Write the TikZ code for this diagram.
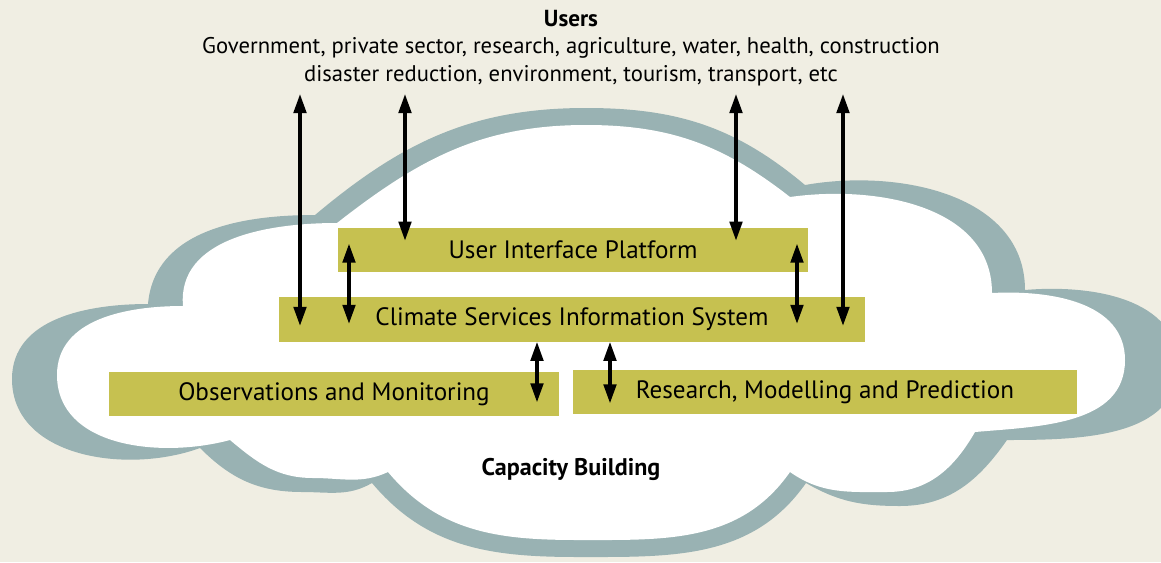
\documentclass[tikz,border=0pt]{standalone}
\usepackage{fontspec}
\setmainfont{PT Sans}
\usetikzlibrary{calc,arrows.meta}
\definecolor{bgcream}{RGB}{240,238,227}
\definecolor{cloudgrey}{RGB}{153,178,179}
\definecolor{boxolive}{RGB}{198,193,80}
\tikzset{
	box/.style={fill=boxolive, inner sep=0pt, minimum height=0.88cm, font=\fontsize{14.3}{17}\selectfont},
	link/.style={line width=1.9pt, {Triangle[length=3.8mm,width=2.5mm]}-{Triangle[length=3.8mm,width=2.5mm]}}
}

\begin{document}
\begin{tikzpicture}[x=0.02cm, y=0.02cm]
	\useasboundingbox (0,0) rectangle (1161,-562);
	\clip (0,0) rectangle (1161,-562);
	\fill[bgcream] (0,0) rectangle (1161,-562);
	
	\fill[cloudgrey] (148,-304) to[out=85,in=180] (315,-215)
		to[out=40,in=180] (586,-108) to[out=0,in=140] (805,-185)
		to[out=10,in=90] (1025,-290)
		to[out=5,in=90] (1178,-365) to[out=-90,in=0] (1007,-440)
		to[out=235,in=0] (900,-506) to[out=180,in=-30] (806,-483)
		to[out=235,in=0] (578,-557) to[out=180,in=-50] (372,-483)
		to[out=210,in=0] (302,-492) to[out=180,in=-45] (200,-448)
		to[out=200,in=-90] (12,-379) to[out=90,in=180] (148,-304) -- cycle;
	\fill[white] (183,-306) to[out=95,in=180] (337,-223)
		to[out=38,in=180] (586,-125) to[out=0,in=142] (790,-197)
		to[out=8,in=90] (992,-293)
		to[out=3,in=90] (1125,-360) to[out=-90,in=5] (975,-432)
		to[out=240,in=0] (887,-492) to[out=180,in=-35] (790,-472)
		to[out=235,in=0] (578,-540) to[out=180,in=-50] (388,-472)
		to[out=205,in=0] (313,-478) to[out=180,in=-40] (230,-440)
		to[out=195,in=-90] (57,-375) to[out=90,in=180] (183,-306) -- cycle;
	
	\node[font=\bfseries\fontsize{13.2}{15}\selectfont] (users) at (571,-19) {Users};
	\node[align=center, font=\fontsize{12.9}{15.9}\selectfont] (sectors) at (571,-62) {Government, private sector, research, agriculture, water, health, construction\\disaster reduction, environment, tourism, transport, etc};
	
	\node[box, minimum width=9.4cm] (uip) at (573,-250) {User Interface Platform};
	\node[box, minimum width=11.72cm, minimum height=0.9cm] (csis) at (572,-319) {Climate Services Information System};
	\node[box, minimum width=9cm] (obs) at (334,-394) {Observations and Monitoring};
	\node[box, minimum width=10.08cm] (rmp) at (825,-392) {Research, Modelling and Prediction};
	\node[font=\bfseries\fontsize{13.7}{16}\selectfont] (cap) at (571,-469) {Capacity Building};
	
	\coordinate (u1) at (300,-94);
	\coordinate (u2) at (405,-94);
	\coordinate (u3) at (736,-94);
	\coordinate (u4) at (843,-94);
	\coordinate (c1) at (349,0);
	\coordinate (c2) at (797,0);
	\coordinate (c3) at (537,0);
	\coordinate (c4) at (610,0);
	
	\draw[link] (u1) -- ($(csis.south -| u1)+(0,16)$);
	\draw[link] (u2) -- ($(uip.north -| u2)+(0,-13)$);
	\draw[link] (u3) -- ($(uip.north -| u3)+(0,-13)$);
	\draw[link] (u4) -- ($(csis.south -| u4)+(0,16)$);
	\draw[link] ($(uip.north -| c1)+(0,-16)$) -- ($(csis.south -| c1)+(0,18)$);
	\draw[link] ($(uip.north -| c2)+(0,-16)$) -- ($(csis.south -| c2)+(0,18)$);
	\draw[link] (csis.south -| c3) -- ($(obs.south -| c3)+(0,14)$);
	\draw[link] (csis.south -| c4) -- ($(rmp.south -| c4)+(0,11)$);
\end{tikzpicture}
\end{document}
